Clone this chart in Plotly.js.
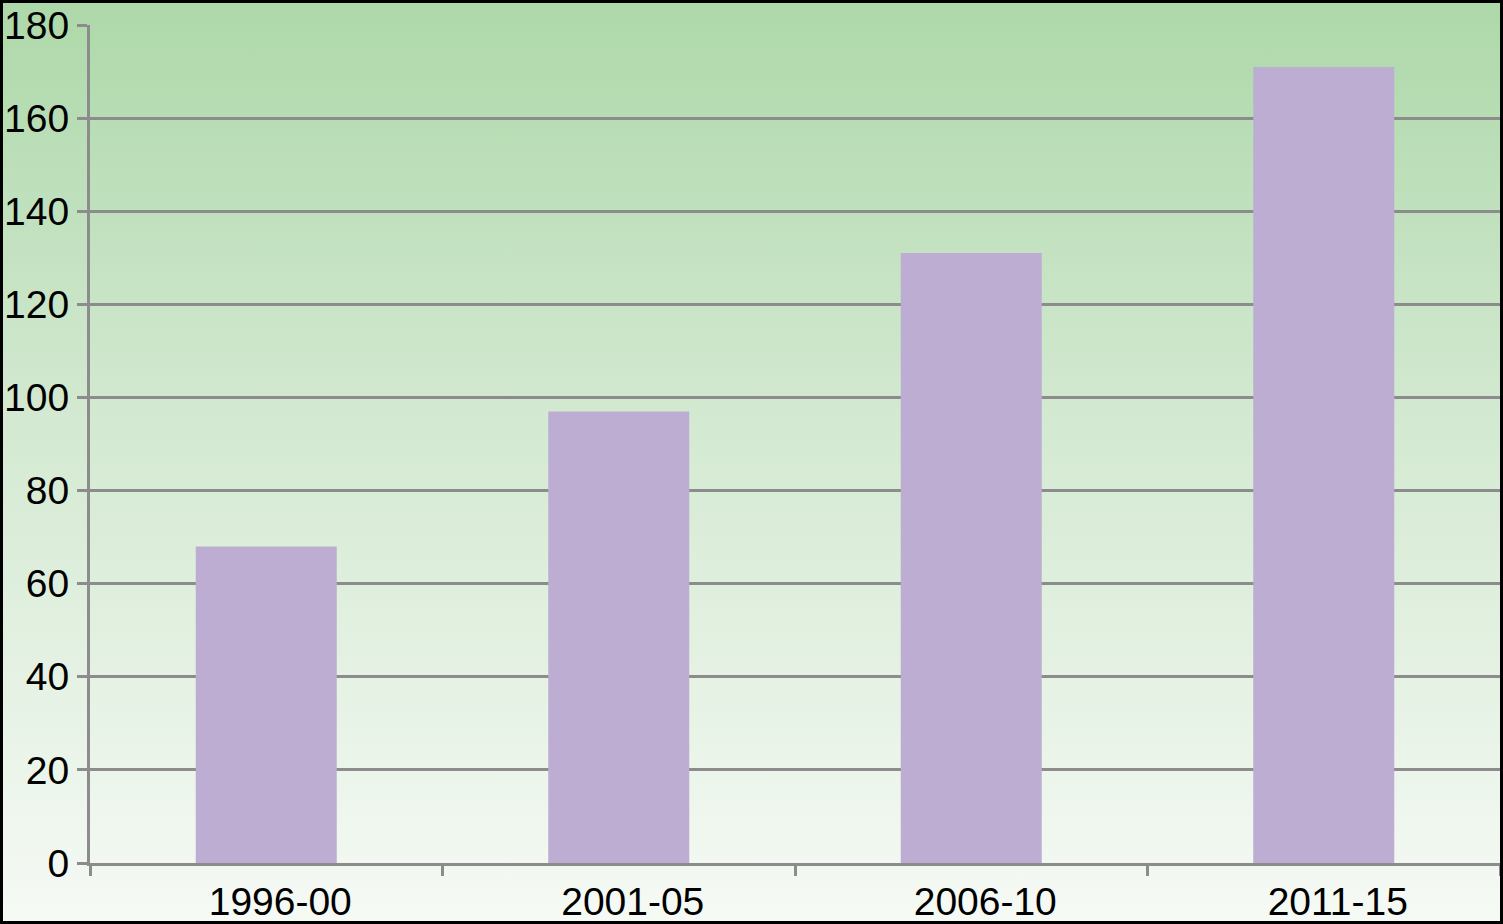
<!DOCTYPE html>
<html>
<head>
<meta charset="utf-8">
<script src="https://cdn.plot.ly/plotly-3.0.1.min.js"></script>
<style>
  html, body { margin: 0; padding: 0; }
  #wrap {
    position: relative;
    width: 1503px;
    height: 924px;
    background: linear-gradient(to bottom, #add8a9 0%, #d3e9d1 45%, #f6faf5 100%);
  }
  #frame {
    position: absolute; left: 0; top: 0;
    width: 1503px; height: 924px;
    box-sizing: border-box;
    border: 3px solid #000;
    pointer-events: none;
  }
</style>
</head>
<body>
<div id="wrap">
  <div id="chart" style="width:1503px;height:924px;"></div>
  <div id="frame"></div>
</div>
<script>
// periods on the x axis and the value for each period
var periods = ['1996-00', '2001-05', '2006-10', '2011-15'];
var values = [68, 97, 131, 171];
var yTicks = [0, 20, 40, 60, 80, 100, 120, 140, 160, 180];

var bars = {
    x: periods,
    y: values,
    type: 'bar',
    width: 0.4,
    marker: { color: '#bdadd3' },
    hoverinfo: 'x+y'
};

var layout = {
    width: 1503,
    height: 924,
    margin: { l: 90, r: 3, t: 25, b: 61 },
    paper_bgcolor: 'rgba(0,0,0,0)',
    plot_bgcolor: 'rgba(0,0,0,0)',
    showlegend: false,
    font: { family: 'Liberation Sans, Arial, sans-serif', size: 39, color: '#000' },
    xaxis: {
        type: 'category',
        tickson: 'boundaries',
        ticks: 'outside',
        ticklen: 10,
        tickwidth: 3,
        tickcolor: '#8c8c8c',
        ticklabelstandoff: 2,
        ticklabelshift: 14,
        showline: true,
        linecolor: '#8c8c8c',
        linewidth: 3,
        showgrid: false,
        zeroline: false,
        fixedrange: true
    },
    yaxis: {
        range: [0, 180],
        tickvals: yTicks,
        ticks: 'outside',
        ticklen: 10,
        tickwidth: 3,
        tickcolor: '#8c8c8c',
        showline: true,
        linecolor: '#8c8c8c',
        linewidth: 3,
        showgrid: true,
        gridcolor: '#8c8c8c',
        gridwidth: 3,
        zeroline: false,
        fixedrange: true
    }
};

Plotly.newPlot('chart', [bars], layout, { displayModeBar: false });
</script>
</body>
</html>
